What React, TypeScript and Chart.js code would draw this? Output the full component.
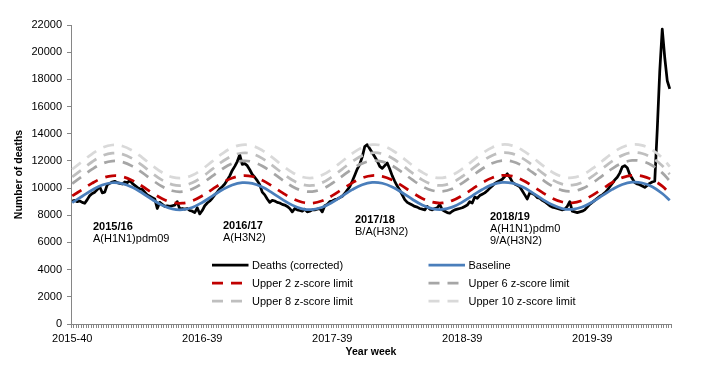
import React, { useEffect, useRef } from 'react';
import { Chart, registerables } from 'chart.js';

Chart.register(...registerables);

// ---------- categories ----------
const START_YEAR = 2015;
const START_WEEK = 40;
const WEEK_COUNT = 240;
const WEEKS_IN_YEAR: Record<number, number> = { 2015: 53, 2016: 52, 2017: 52, 2018: 52, 2019: 52, 2020: 53 };
const weekLabels: string[] = (() => {
  const out: string[] = [];
  let y = START_YEAR;
  let w = START_WEEK;
  for (let i = 0; i < WEEK_COUNT; i++) {
    out.push(`${y}-${String(w).padStart(2, '0')}`);
    w++;
    if (w > (WEEKS_IN_YEAR[y] || 52)) {
      y++;
      w = 1;
    }
  }
  return out;
})();

const xTickLabels = ['2015-40', '2016-39', '2017-39', '2018-39', '2019-39'];

// ---------- weekly deaths (corrected) ----------
const deaths: number[] = [
  9050, 9100, 9000, 9050, 8950, 8880, 9150, 9450, 9600, 9700,
  9900, 10100, 9650, 9700, 10250, 10350, 10450, 10500, 10400, 10350,
  10300, 10450, 10400, 10550, 10350, 10200, 10050, 9950, 9900, 9700,
  9500, 9400, 9300, 9200, 8500, 8950, 8800, 8650, 8700, 8650,
  8700, 8750, 9000, 8450, 8500, 8450, 8500, 8350, 8300, 8200,
  8550, 8100, 8350, 8700, 8900, 9050, 9250, 9500, 9700, 9950,
  10100, 10300, 10600, 10900, 11300, 11600, 11950, 12450, 11750, 11800,
  11650, 11350, 11000, 10800, 10550, 10250, 9700, 9500, 9200, 8950,
  9100, 9050, 8950, 8900, 8800, 8750, 8650, 8500, 8250, 8500,
  8400, 8350, 8300, 8450, 8250, 8300, 8400, 8400, 8450, 8500,
  8250, 8700, 8800, 9000, 9050, 9150, 9200, 9300, 9400, 9600,
  9850, 10100, 10500, 10950, 11400, 11750, 12300, 13050, 13200, 12900,
  12600, 12300, 12000, 11600, 11450, 11650, 11850, 11400, 10900, 10500,
  10150, 9850, 9500, 9150, 8950, 8850, 8750, 8650, 8600, 8500,
  8450, 8400, 8650, 8450, 8400, 8500, 8550, 8800, 8400, 8300,
  8200, 8150, 8300, 8400, 8450, 8500, 8550, 8650, 8750, 9000,
  8900, 9350, 9250, 9450, 9550, 9650, 9800, 10000, 10150, 10350,
  10450, 10550, 10650, 10850, 11050, 10800, 10450, 10300, 10200, 10100,
  9800, 9500, 9200, 9650, 9600, 9500, 9300, 9250, 9100, 9000,
  8850, 8700, 8600, 8550, 8500, 8450, 8400, 8450, 8650, 9000,
  8300, 8250, 8200, 8250, 8300, 8400, 8600, 8800, 8950, 9100,
  9250, 9400, 9500, 9650, 9850, 10100, 10350, 10600, 10800, 11100,
  11550, 11650, 11500, 11000, 10700, 10400, 10300, 10250, 10150, 10050,
  10200, 10350, 10450, 10500, 14300, 18600, 21700, 19600, 17900, 17300,
];

// ---------- baseline and limits (sampled weeks) ----------
const limitWeeks: number[] = [
  0, 4, 8, 12, 16, 20, 24, 28, 32, 36, 40, 44, 48,
  52, 56, 60, 64, 68, 72, 76, 80, 84, 88, 92, 96, 100,
  104, 108, 112, 116, 120, 124, 128, 132, 136, 140, 144, 148, 152,
  156, 160, 164, 168, 172, 176, 180, 184, 188, 192, 196, 200, 204,
  208, 212, 216, 220, 224, 228, 232, 236, 239,
];

const baseline: number[] = [
  8935, 9400, 9865, 10223, 10393, 10335, 10063, 9639, 9161, 8737, 8465, 8407, 8577,
  8945, 9410, 9875, 10233, 10403, 10345, 10073, 9649, 9171, 8747, 8475, 8417, 8587,
  8955, 9420, 9885, 10243, 10413, 10355, 10083, 9659, 9181, 8757, 8485, 8427, 8597,
  8965, 9430, 9895, 10253, 10423, 10365, 10093, 9669, 9191, 8767, 8495, 8437, 8607,
  8975, 9440, 9905, 10263, 10433, 10375, 10103, 9600, 9100,
];

const upper2: number[] = [
  9423, 9895, 10367, 10730, 10903, 10844, 10568, 10138, 9652, 9222, 8946, 8887, 9060,
  9433, 9905, 10377, 10740, 10913, 10854, 10578, 10148, 9662, 9232, 8956, 8897, 9070,
  9443, 9915, 10387, 10750, 10923, 10864, 10588, 10158, 9672, 9242, 8966, 8907, 9080,
  9453, 9925, 10397, 10760, 10933, 10874, 10598, 10168, 9682, 9252, 8976, 8917, 9090,
  9463, 9935, 10407, 10770, 10943, 10884, 10608, 10140, 9590,
];

const upper6: number[] = [
  10337, 10865, 11393, 11799, 11992, 11926, 11618, 11136, 10594, 10112, 9804, 9738, 9931,
  10347, 10875, 11403, 11809, 12002, 11936, 11628, 11146, 10604, 10122, 9814, 9748, 9941,
  10357, 10885, 11413, 11819, 12012, 11946, 11638, 11156, 10614, 10132, 9824, 9758, 9951,
  10367, 10895, 11423, 11829, 12022, 11956, 11648, 11166, 10624, 10142, 9834, 9768, 9961,
  10377, 10905, 11433, 11839, 12032, 11966, 11658, 11120, 10520,
];

const upper8: number[] = [
  10822, 11380, 11938, 12368, 12572, 12502, 12176, 11667, 11093, 10584, 10258, 10188, 10392,
  10832, 11390, 11948, 12378, 12582, 12512, 12186, 11677, 11103, 10594, 10268, 10198, 10402,
  10842, 11400, 11958, 12388, 12592, 12522, 12196, 11687, 11113, 10604, 10278, 10208, 10412,
  10852, 11410, 11968, 12398, 12602, 12532, 12206, 11697, 11123, 10614, 10288, 10218, 10422,
  10862, 11420, 11978, 12408, 12612, 12542, 12216, 11650, 11020,
];

const upper10: number[] = [
  11385, 11955, 12525, 12963, 13171, 13100, 12767, 12248, 11662, 11143, 10810, 10739, 10947,
  11395, 11965, 12535, 12973, 13181, 13110, 12777, 12258, 11672, 11153, 10820, 10749, 10957,
  11405, 11975, 12545, 12983, 13191, 13120, 12787, 12268, 11682, 11163, 10830, 10759, 10967,
  11415, 11985, 12555, 12993, 13201, 13130, 12797, 12278, 11692, 11173, 10840, 10769, 10977,
  11425, 11995, 12565, 13003, 13211, 13140, 12807, 12230, 11580,
];

const seriesNames = [
  'Deaths (corrected)',
  'Baseline',
  'Upper 2 z-score limit',
  'Upper 6 z-score limit',
  'Upper 8 z-score limit',
  'Upper 10 z-score limit',
];

const seasonNotes: { lines: string[] }[] = [
  { lines: ['2015/16', 'A(H1N1)pdm09'] },
  { lines: ['2016/17', 'A(H3N2)'] },
  { lines: ['2017/18', 'B/A(H3N2)'] },
  { lines: ['2018/19', 'A(H1N1)pdm0', '9/A(H3N2)'] },
];

const FONT = "'Liberation Sans', Arial, Helvetica, sans-serif";

function sparse(values: number[]): (number | null)[] {
  const arr: (number | null)[] = new Array(WEEK_COUNT).fill(null);
  limitWeeks.forEach((w, k) => {
    arr[w] = values[k];
  });
  return arr;
}

const overlayPlugin = {
  id: 'overlay',
  afterDraw(chart: any) {
    const ctx: CanvasRenderingContext2D = chart.ctx;
    ctx.save();
    // legend
    const slots = [
      { x: 212, y: 265 },
      { x: 428.5, y: 265 },
      { x: 212, y: 283 },
      { x: 428.5, y: 283 },
      { x: 212, y: 301 },
      { x: 428.5, y: 301 },
    ];
    chart.data.datasets.forEach((ds: any, i: number) => {
      const s = slots[i];
      if (!s) return;
      ctx.beginPath();
      ctx.strokeStyle = ds.borderColor;
      ctx.lineWidth = ds.borderWidth;
      ctx.lineCap = 'butt';
      ctx.setLineDash(ds.borderDash || []);
      ctx.moveTo(s.x, s.y);
      ctx.lineTo(s.x + 36.5, s.y);
      ctx.stroke();
      ctx.setLineDash([]);
      ctx.fillStyle = '#000';
      ctx.font = `11px ${FONT}`;
      ctx.textAlign = 'left';
      ctx.textBaseline = 'middle';
      ctx.fillText(ds.label, s.x + 40, s.y + 0.5);
    });
    // season annotations
    const notePos = [
      { x: 93, y: 227 },
      { x: 223, y: 225.5 },
      { x: 355, y: 219.5 },
      { x: 490, y: 217 },
    ];
    seasonNotes.forEach((n, k) => {
      const p = notePos[k];
      n.lines.forEach((line, li) => {
        ctx.font = li === 0 ? `bold 11px ${FONT}` : `11px ${FONT}`;
        ctx.fillStyle = '#000';
        ctx.textAlign = 'left';
        ctx.textBaseline = 'middle';
        ctx.fillText(line, p.x, p.y + li * 12);
      });
    });
    ctx.restore();
  },
};

export default function App() {
  const ref = useRef<HTMLCanvasElement | null>(null);

  useEffect(() => {
    document.body.style.margin = '0';
    const canvas = ref.current;
    if (!canvas) return;
    const dash = [11, 8];
    const chart = new Chart(canvas, {
      type: 'line',
      data: {
        labels: weekLabels,
        datasets: [
          {
            label: seriesNames[0],
            data: deaths,
            borderColor: '#000000',
            borderWidth: 2.75,
            pointRadius: 0,
            tension: 0,
            borderJoinStyle: 'round',
            order: 6,
          },
          {
            label: seriesNames[1],
            data: sparse(baseline),
            borderColor: '#4A7EBB',
            borderWidth: 2.75,
            pointRadius: 0,
            tension: 0.4,
            spanGaps: true,
            order: 5,
          },
          {
            label: seriesNames[2],
            data: sparse(upper2),
            borderColor: '#C00000',
            borderWidth: 2.75,
            borderDash: dash,
            borderCapStyle: 'butt',
            pointRadius: 0,
            tension: 0.4,
            spanGaps: true,
            order: 4,
          },
          {
            label: seriesNames[3],
            data: sparse(upper6),
            borderColor: '#A6A6A6',
            borderWidth: 2.75,
            borderDash: dash,
            borderCapStyle: 'butt',
            pointRadius: 0,
            tension: 0.4,
            spanGaps: true,
            order: 3,
          },
          {
            label: seriesNames[4],
            data: sparse(upper8),
            borderColor: '#BFBFBF',
            borderWidth: 2.75,
            borderDash: dash,
            borderCapStyle: 'butt',
            pointRadius: 0,
            tension: 0.4,
            spanGaps: true,
            order: 2,
          },
          {
            label: seriesNames[5],
            data: sparse(upper10),
            borderColor: '#D9D9D9',
            borderWidth: 2.75,
            borderDash: dash,
            borderCapStyle: 'butt',
            pointRadius: 0,
            tension: 0.4,
            spanGaps: true,
            order: 1,
          },
        ] as any,
      },
      options: {
        animation: false,
        responsive: false,
        events: [],
        layout: { padding: { left: 0, right: 38, top: 25, bottom: 0 } },
        plugins: {
          legend: { display: false },
          tooltip: { enabled: false },
        },
        scales: {
          x: {
            type: 'category',
            offset: true,
            grid: {
              display: true,
              drawOnChartArea: false,
              drawTicks: true,
              tickLength: 4,
              color: '#868686',
              offset: true,
            },
            border: { display: true, color: '#868686' },
            ticks: {
              autoSkip: false,
              maxRotation: 0,
              minRotation: 0,
              padding: 4,
              color: '#000',
              font: { family: FONT, size: 11 },
              callback: (_v: any, index: number) => {
                const l = weekLabels[index];
                return xTickLabels.includes(l) ? l : '';
              },
            },
            title: {
              display: true,
              text: 'Year week',
              color: '#000',
              font: { family: FONT, size: 10.5, weight: 'bold' },
              padding: { top: 0, bottom: 19 },
            },
            afterFit: (scale: any) => {
              scale.height = 53;
            },
          } as any,
          y: {
            min: 0,
            max: 22000,
            grid: {
              drawOnChartArea: false,
              drawTicks: true,
              tickLength: 4,
              color: '#868686',
            },
            border: { display: true, color: '#868686' },
            ticks: {
              stepSize: 2000,
              padding: 5,
              color: '#000',
              font: { family: FONT, size: 11 },
              callback: (v: any) => String(v),
            },
            title: {
              display: true,
              text: 'Number of deaths',
              color: '#000',
              font: { family: FONT, size: 10.5, weight: 'bold' },
              padding: { top: 13, bottom: 0 },
            },
            afterFit: (scale: any) => {
              scale.width = 71;
            },
          } as any,
        },
      },
      plugins: [overlayPlugin],
    });
    return () => chart.destroy();
  }, []);

  return (
    <div style={{ width: 709, height: 377 }}>
      <canvas ref={ref} width={709} height={377} style={{ display: 'block' }} />
    </div>
  );
}
